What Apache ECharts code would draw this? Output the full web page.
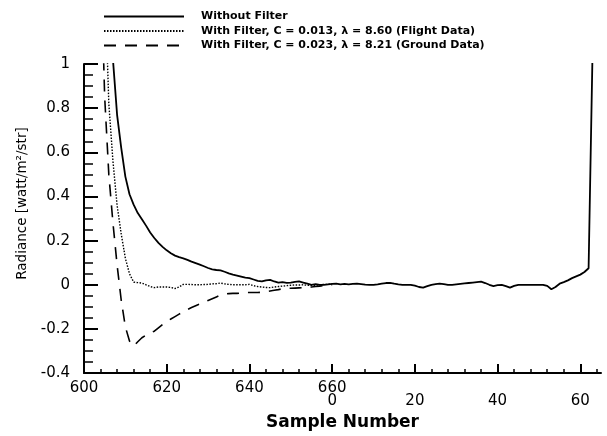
<!DOCTYPE html>
<html>
<head>
<meta charset="utf-8">
<script src="https://cdn.jsdelivr.net/npm/echarts@6/dist/echarts.min.js"></script>
<style>
  html, body { margin: 0; padding: 0; background: #fff; }
  #chart { width: 607px; height: 436px; }
</style>
</head>
<body>
<div id="chart"></div>
<script>
// Radiance per sample across the scan wrap (samples 600..659 continue as 0..64,
// drawn on a continuous axis where 660 == 0).
const seriesNames = [
  'Without Filter',
  'With Filter, C = 0.013, \u03bb = 8.60 (Flight Data)',
  'With Filter, C = 0.023, \u03bb = 8.21 (Ground Data)'
];

// Without filter: one value per sample starting at 606
const withoutFilterStart = 606;
const withoutFilter = [
  1.4, 1.02, 0.77, 0.62, 0.49, 0.41, 0.363, 0.325, 0.297, 0.268,
  0.237, 0.212, 0.19, 0.172, 0.156, 0.143, 0.132, 0.125, 0.12, 0.113,
  0.105, 0.098, 0.091, 0.084, 0.076, 0.07, 0.067, 0.065, 0.059, 0.052,
  0.046, 0.042, 0.037, 0.032, 0.03, 0.024, 0.018, 0.015, 0.02, 0.022,
  0.015, 0.01, 0.012, 0.009, 0.01, 0.013, 0.015, 0.01, 0.005, 0.0,
  0.003, 0.0, 0.0, 0.002, 0.004, 0.005, 0.002, 0.004, 0.002, 0.004,
  0.005, 0.003, 0.001, 0.0, 0.0, 0.002, 0.005, 0.008, 0.009, 0.005,
  0.002, 0.0, 0.0, 0.0, -0.004, -0.01, -0.013, -0.006, 0.0, 0.003,
  0.005, 0.003, 0.0, 0.0, 0.002, 0.004, 0.006, 0.008, 0.01, 0.012,
  0.014, 0.008, 0.0, -0.006, -0.002, 0.0, -0.006, -0.013, -0.005, 0.0,
  0.0, 0.0, 0.0, 0.0, 0.0, 0.0, -0.005, -0.02, -0.01, 0.005,
  0.012, 0.02, 0.03, 0.038, 0.046, 0.058, 0.075, 1.1
];

// Filtered with flight-data coefficients, starting at sample 605
const flightStart = 605;
const flightFilter = [
  1.4, 0.82, 0.56, 0.36, 0.23, 0.12, 0.05, 0.012, 0.01, 0.008,
  0.0, -0.008, -0.013, -0.01, -0.01, -0.01, -0.012, -0.017, -0.01, 0.002,
  0.002, 0.001, 0.0, 0.0, 0.001, 0.002, 0.004, 0.005, 0.008, 0.004,
  0.002, 0.0, 0.0, 0.0, 0.0, 0.002, -0.004, -0.008, -0.01, -0.012,
  -0.013, -0.01, -0.008, -0.006, -0.004, -0.002, -0.001, -0.001, 0.0, -0.002,
  -0.003, -0.002, 0.0, 0.002, 0.002, 0.003
];

// Filtered with ground-data coefficients, starting at sample 604
const groundStart = 604;
const groundFilter = [
  1.5, 0.85, 0.5, 0.28, 0.09, -0.07, -0.19, -0.255, -0.278, -0.258,
  -0.24, -0.228, -0.218, -0.21, -0.195, -0.18, -0.166, -0.155, -0.144, -0.133,
  -0.122, -0.112, -0.103, -0.095, -0.087, -0.079, -0.071, -0.063, -0.055, -0.047,
  -0.042, -0.04, -0.039, -0.039, -0.037, -0.035, -0.035, -0.035, -0.035, -0.034,
  -0.031, -0.028, -0.025, -0.022, -0.018, -0.016, -0.016, -0.015, -0.014, -0.013,
  -0.012, -0.01, -0.008, -0.006, -0.004, -0.002, 0.0
];

// Axis ticks on the continuous sample axis and the labels printed under them
const xMajorTicks = [600, 620, 640, 660, 680, 700, 720];
const xTickLabels = ['600', '620', '640', '660\n0', '\n20', '\n40', '\n60'];
const xMin = 600, xMax = 725;
const yMin = -0.4, yMax = 1, yStep = 0.2;

const xMinorTicks = [];
for (let v = xMin; v <= xMax; v += 4) {
  if (xMajorTicks.indexOf(v) < 0) xMinorTicks.push(v);
}

function toPairs(start, values) {
  return values.map((v, i) => [start + i, v]);
}

const FONT = 'DejaVu Sans';

const chart = echarts.init(document.getElementById('chart'), null, { renderer: 'canvas' });

chart.setOption({
  animation: false,
  backgroundColor: '#fff',
  color: ['#000', '#000', '#000'],
  grid: { left: 84, right: 6, top: 64, bottom: 55, containLabel: false },
  legend: {
    data: seriesNames,
    orient: 'vertical',
    left: 98,
    top: 6,
    itemWidth: 80,
    itemHeight: 12,
    itemGap: 3.5,
    selectedMode: false,
    itemStyle: { opacity: 0 },
    textStyle: {
      fontFamily: FONT, fontWeight: 'bold', fontSize: 11, color: '#000',
      padding: [0, 0, 0, 12]
    }
  },
  xAxis: [
    {
      type: 'value',
      min: xMin,
      max: xMax,
      position: 'bottom',
      name: 'Sample Number',
      nameLocation: 'middle',
      nameGap: 34,
      nameTextStyle: { fontFamily: FONT, fontWeight: 'bold', fontSize: 17, color: '#000' },
      axisLine: { onZero: false, lineStyle: { color: '#000', width: 2 } },
      axisTick: { inside: true, length: 9, customValues: xMajorTicks, lineStyle: { color: '#000', width: 2 } },
      axisLabel: {
        customValues: xMajorTicks,
        formatter: v => {
          const i = xMajorTicks.indexOf(v);
          return i < 0 ? '' : xTickLabels[i];
        },
        color: '#000', fontFamily: FONT, fontSize: 15, lineHeight: 13, margin: 9
      },
      splitLine: { show: false }
    },
    {
      type: 'value',
      min: xMin,
      max: xMax,
      position: 'bottom',
      axisLine: { show: false, onZero: false },
      axisLabel: { show: false },
      axisTick: { inside: true, length: 4, customValues: xMinorTicks, lineStyle: { color: '#000', width: 1.5 } },
      splitLine: { show: false }
    }
  ],
  yAxis: {
    type: 'value',
    min: yMin,
    max: yMax,
    interval: yStep,
    name: 'Radiance [watt/m\u00b2/str]',
    nameLocation: 'middle',
    nameGap: 44,
    nameTextStyle: { fontFamily: FONT, fontSize: 13.5, color: '#000', padding: [0, 0, 0, 30] },
    axisLine: { show: true, onZero: false, lineStyle: { color: '#000', width: 2 } },
    axisTick: { show: true, inside: true, length: 14, lineStyle: { color: '#000', width: 2 } },
    minorTick: { show: true, splitNumber: 4, length: 9, lineStyle: { color: '#000', width: 1.5 } },
    axisLabel: { color: '#000', fontFamily: FONT, fontSize: 15, margin: 14 },
    splitLine: { show: false }
  },
  series: [
    {
      name: seriesNames[0],
      type: 'line',
      data: toPairs(withoutFilterStart, withoutFilter),
      symbol: 'none',
      itemStyle: { color: '#000' },
      lineStyle: { color: '#000', width: 1.8, type: 'solid' },
      z: 3
    },
    {
      name: seriesNames[1],
      type: 'line',
      data: toPairs(flightStart, flightFilter),
      symbol: 'none',
      itemStyle: { color: '#000' },
      lineStyle: { color: '#000', width: 1.4, type: [1.5, 1.5] },
      z: 2
    },
    {
      name: seriesNames[2],
      type: 'line',
      data: toPairs(groundStart, groundFilter),
      symbol: 'none',
      itemStyle: { color: '#000' },
      lineStyle: { color: '#000', width: 1.6, type: [12, 9] },
      z: 2
    }
  ]
});
</script>
</body>
</html>
